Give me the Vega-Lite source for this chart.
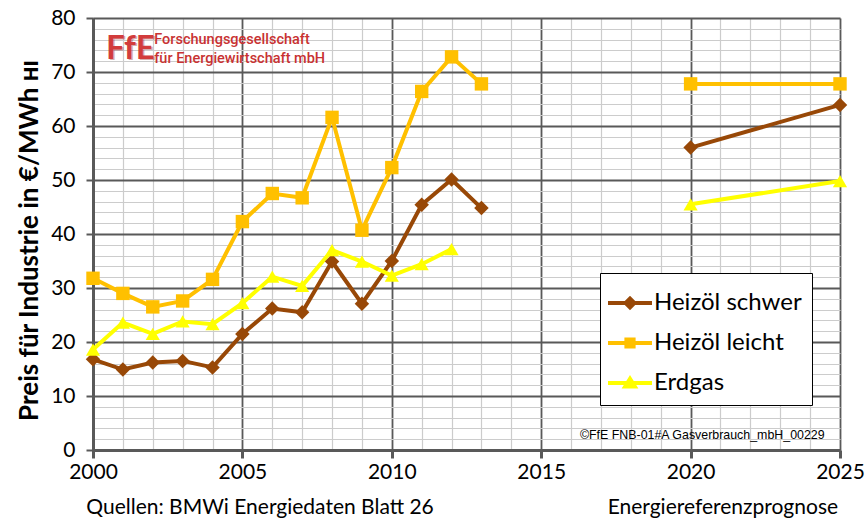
{
  "$schema": "https://vega.github.io/schema/vega-lite/v6.json",
  "autosize": "none",
  "width": 747,
  "height": 432,
  "padding": {"left": 93, "top": 18, "right": 26, "bottom": 73},
  "background": "white",
  "config": {
    "view": {"stroke": null},
    "font": "Lato"
  },
  "datasets": {
    "prices": [
      {"year": 2000, "value": 16.8, "series": "Heizöl schwer", "period": "hist"},
      {"year": 2001, "value": 14.9, "series": "Heizöl schwer", "period": "hist"},
      {"year": 2002, "value": 16.2, "series": "Heizöl schwer", "period": "hist"},
      {"year": 2003, "value": 16.5, "series": "Heizöl schwer", "period": "hist"},
      {"year": 2004, "value": 15.3, "series": "Heizöl schwer", "period": "hist"},
      {"year": 2005, "value": 21.5, "series": "Heizöl schwer", "period": "hist"},
      {"year": 2006, "value": 26.2, "series": "Heizöl schwer", "period": "hist"},
      {"year": 2007, "value": 25.5, "series": "Heizöl schwer", "period": "hist"},
      {"year": 2008, "value": 34.9, "series": "Heizöl schwer", "period": "hist"},
      {"year": 2009, "value": 27.1, "series": "Heizöl schwer", "period": "hist"},
      {"year": 2010, "value": 35.0, "series": "Heizöl schwer", "period": "hist"},
      {"year": 2011, "value": 45.4, "series": "Heizöl schwer", "period": "hist"},
      {"year": 2012, "value": 50.1, "series": "Heizöl schwer", "period": "hist"},
      {"year": 2013, "value": 44.8, "series": "Heizöl schwer", "period": "hist"},
      {"year": 2020, "value": 56.0, "series": "Heizöl schwer", "period": "prog"},
      {"year": 2025, "value": 63.9, "series": "Heizöl schwer", "period": "prog"},
      {"year": 2000, "value": 31.8, "series": "Heizöl leicht", "period": "hist"},
      {"year": 2001, "value": 29.0, "series": "Heizöl leicht", "period": "hist"},
      {"year": 2002, "value": 26.5, "series": "Heizöl leicht", "period": "hist"},
      {"year": 2003, "value": 27.6, "series": "Heizöl leicht", "period": "hist"},
      {"year": 2004, "value": 31.6, "series": "Heizöl leicht", "period": "hist"},
      {"year": 2005, "value": 42.3, "series": "Heizöl leicht", "period": "hist"},
      {"year": 2006, "value": 47.5, "series": "Heizöl leicht", "period": "hist"},
      {"year": 2007, "value": 46.7, "series": "Heizöl leicht", "period": "hist"},
      {"year": 2008, "value": 61.6, "series": "Heizöl leicht", "period": "hist"},
      {"year": 2009, "value": 40.7, "series": "Heizöl leicht", "period": "hist"},
      {"year": 2010, "value": 52.3, "series": "Heizöl leicht", "period": "hist"},
      {"year": 2011, "value": 66.4, "series": "Heizöl leicht", "period": "hist"},
      {"year": 2012, "value": 72.8, "series": "Heizöl leicht", "period": "hist"},
      {"year": 2013, "value": 67.8, "series": "Heizöl leicht", "period": "hist"},
      {"year": 2020, "value": 67.8, "series": "Heizöl leicht", "period": "prog"},
      {"year": 2025, "value": 67.8, "series": "Heizöl leicht", "period": "prog"},
      {"year": 2000, "value": 18.6, "series": "Erdgas", "period": "hist"},
      {"year": 2001, "value": 23.6, "series": "Erdgas", "period": "hist"},
      {"year": 2002, "value": 21.5, "series": "Erdgas", "period": "hist"},
      {"year": 2003, "value": 23.8, "series": "Erdgas", "period": "hist"},
      {"year": 2004, "value": 23.3, "series": "Erdgas", "period": "hist"},
      {"year": 2005, "value": 27.2, "series": "Erdgas", "period": "hist"},
      {"year": 2006, "value": 32.1, "series": "Erdgas", "period": "hist"},
      {"year": 2007, "value": 30.4, "series": "Erdgas", "period": "hist"},
      {"year": 2008, "value": 37.0, "series": "Erdgas", "period": "hist"},
      {"year": 2009, "value": 34.9, "series": "Erdgas", "period": "hist"},
      {"year": 2010, "value": 32.3, "series": "Erdgas", "period": "hist"},
      {"year": 2011, "value": 34.4, "series": "Erdgas", "period": "hist"},
      {"year": 2012, "value": 37.2, "series": "Erdgas", "period": "hist"},
      {"year": 2020, "value": 45.5, "series": "Erdgas", "period": "prog"},
      {"year": 2025, "value": 49.8, "series": "Erdgas", "period": "prog"}
    ],
    "notes": [
      {"x": 2005.59, "y": -10.7, "text": "Quellen: BMWi Energiedaten Blatt 26"},
      {"x": 2021.08, "y": -10.7, "text": "Energiereferenzprognose"}
    ],
    "logo": [
      {"x": 2001.25, "y": 74.3, "text": "FfE"}
    ],
    "logotext": [
      {"x": 2002.05, "y": 75.9, "text": "Forschungsgesellschaft"},
      {"x": 2002.05, "y": 72.4, "text": "für Energiewirtschaft mbH"}
    ],
    "copy": [
      {"x": 2020.39, "y": 2.8, "text": "©FfE FNB-01#A Gasverbrauch_mbH_00229"}
    ]
  },
  "resolve": {"axis": {"x": "independent", "y": "independent"}},
  "layer": [
    {
      "data": {"name": "prices"},
      "mark": {"type": "point", "filled": true, "opacity": 0, "size": 10},
      "encoding": {
        "x": {"field": "year", "type": "quantitative", "axis": null, "scale": {"domain": [2000, 2025], "nice": false, "zero": false}},
        "y": {"field": "value", "type": "quantitative", "axis": null, "scale": {"domain": [0, 80], "nice": false, "zero": true}},
        "color": {
          "field": "series", "type": "nominal",
          "scale": {"domain": ["Heizöl schwer", "Heizöl leicht", "Erdgas"], "range": ["#984807", "#FFC000", "#FFFF00"]},
          "legend": {
            "orient": "none", "legendX": 507, "legendY": 255,
            "title": null, "fillColor": "white", "strokeColor": "#000000",
            "padding": 10, "labelFontSize": 24, "labelFont": "Lato", "labelColor": "black",
            "symbolSize": 1600, "rowPadding": 8, "labelOffset": 4, "labelLimit": 300,
            "symbolStrokeWidth": 0, "symbolOpacity": 1
          }
        },
        "shape": {
          "field": "series", "type": "nominal",
          "scale": {"domain": ["Heizöl schwer", "Heizöl leicht", "Erdgas"], "range": [
            "M-1.1,-0.1H1.1V0.1H-1.1Z M0,-0.36L0.36,0L0,0.36L-0.36,0Z",
            "M-1.1,-0.1H1.1V0.1H-1.1Z M-0.28,-0.28H0.28V0.28H-0.28Z",
            "M-1.1,-0.1H1.1V0.1H-1.1Z M0,-0.4L0.42,0.28H-0.42Z"
          ]},
          "legend": {
            "orient": "none", "legendX": 507, "legendY": 255,
            "title": null, "fillColor": "white", "strokeColor": "#000000",
            "padding": 10, "labelFontSize": 24, "labelFont": "Lato", "labelColor": "black",
            "symbolSize": 1600, "rowPadding": 8, "labelOffset": 4, "labelLimit": 300,
            "symbolStrokeWidth": 0, "symbolOpacity": 1
          }
        }
      }
    },
    {
      "data": {"name": "prices"},
      "mark": {"type": "line", "strokeWidth": 4},
      "encoding": {
        "x": {
          "field": "year", "type": "quantitative",
          "axis": {
            "orient": "top", "values": [2001,2002,2003,2004,2006,2007,2008,2009,2011,2012,2013,2014,2016,2017,2018,2019,2021,2022,2023,2024],
            "grid": true, "gridColor": "#cccccc", "gridWidth": 1.2,
            "labels": false, "ticks": false, "domain": false, "title": null
          }
        },
        "y": {
          "field": "value", "type": "quantitative",
          "axis": {
            "orient": "right", "values": [2,4,6,8,12,14,16,18,22,24,26,28,32,34,36,38,42,44,46,48,52,54,56,58,62,64,66,68,72,74,76,78],
            "grid": true, "gridColor": "#cccccc", "gridWidth": 1.2,
            "labels": false, "ticks": false, "domain": false, "title": null
          }
        },
        "detail": {"field": "period"},
        "color": {"field": "series", "type": "nominal", "legend": null}
      }
    },
    {
      "data": {"name": "prices"},
      "transform": [{"filter": "datum.series === 'Heizöl schwer'"}],
      "mark": {"type": "point", "shape": "diamond", "filled": true, "opacity": 1, "size": 210},
      "encoding": {
        "x": {
          "field": "year", "type": "quantitative",
          "axis": {
            "orient": "bottom", "values": [2000, 2005, 2010, 2015, 2020, 2025], "format": "d",
            "grid": true, "gridColor": "#595959", "gridWidth": 1.8,
            "domainColor": "#595959", "domainWidth": 3,
            "tickColor": "#595959", "tickWidth": 3, "tickSize": 8,
            "labelFontSize": 21, "labelFont": "Lato", "labelColor": "black", "labelPadding": 3,
            "labelFlush": false, "title": null
          }
        },
        "y": {
          "field": "value", "type": "quantitative",
          "axis": {
            "orient": "left", "values": [0, 10, 20, 30, 40, 50, 60, 70, 80],
            "grid": true, "gridColor": "#595959", "gridWidth": 1.8,
            "domainColor": "#595959", "domainWidth": 3,
            "tickColor": "#595959", "tickWidth": 2, "tickSize": 7,
            "labelFontSize": 21, "labelFont": "Lato", "labelColor": "black", "labelPadding": 11,
            "title": "Preis für Industrie in €/MWh ʜɪ",
            "titleFontSize": 26, "titleFont": "Lato", "titleFontWeight": "bold", "titleColor": "black",
            "titlePadding": 8, "titleY": 222
          }
        },
        "color": {"field": "series", "type": "nominal", "legend": null}
      }
    },
    {
      "data": {"name": "prices"},
      "transform": [{"filter": "datum.series === 'Heizöl leicht'"}],
      "mark": {"type": "point", "shape": "square", "filled": true, "opacity": 1, "size": 180},
      "encoding": {
        "x": {"field": "year", "type": "quantitative", "axis": null},
        "y": {"field": "value", "type": "quantitative", "axis": null},
        "color": {"field": "series", "type": "nominal", "legend": null}
      }
    },
    {
      "data": {"name": "prices"},
      "transform": [{"filter": "datum.series === 'Erdgas'"}],
      "mark": {"type": "point", "shape": "triangle-up", "filled": true, "opacity": 1, "size": 200},
      "encoding": {
        "x": {"field": "year", "type": "quantitative", "axis": null},
        "y": {"field": "value", "type": "quantitative", "axis": null},
        "color": {"field": "series", "type": "nominal", "legend": null}
      }
    },
    {
      "data": {"name": "notes"},
      "mark": {"type": "text", "fontSize": 21, "font": "Lato", "color": "black", "align": "center", "baseline": "middle"},
      "encoding": {
        "x": {"field": "x", "type": "quantitative", "axis": null},
        "y": {"field": "y", "type": "quantitative", "axis": null},
        "text": {"field": "text"}
      }
    },
    {
      "data": {"name": "logo"},
      "mark": {"type": "text", "fontSize": 33, "font": "Lato", "fontWeight": "bold", "color": "#8c1c1c", "align": "center", "baseline": "middle", "dx": 1.5, "dy": 1.5, "opacity": 0.35},
      "encoding": {
        "x": {"field": "x", "type": "quantitative", "axis": null},
        "y": {"field": "y", "type": "quantitative", "axis": null},
        "text": {"field": "text"}
      }
    },
    {
      "data": {"name": "logo"},
      "mark": {"type": "text", "fontSize": 33, "font": "Lato", "fontWeight": "bold", "color": "#D23C3C", "align": "center", "baseline": "middle"},
      "encoding": {
        "x": {"field": "x", "type": "quantitative", "axis": null},
        "y": {"field": "y", "type": "quantitative", "axis": null},
        "text": {"field": "text"}
      }
    },
    {
      "data": {"name": "logotext"},
      "mark": {"type": "text", "fontSize": 14.5, "font": "Roboto", "fontWeight": 500, "color": "#C83232", "align": "left", "baseline": "middle"},
      "encoding": {
        "x": {"field": "x", "type": "quantitative", "axis": null},
        "y": {"field": "y", "type": "quantitative", "axis": null},
        "text": {"field": "text"}
      }
    },
    {
      "data": {"name": "copy"},
      "mark": {"type": "text", "fontSize": 12.4, "font": "Liberation Sans", "color": "black", "align": "center", "baseline": "middle"},
      "encoding": {
        "x": {"field": "x", "type": "quantitative", "axis": null},
        "y": {"field": "y", "type": "quantitative", "axis": null},
        "text": {"field": "text"}
      }
    }
  ]
}
